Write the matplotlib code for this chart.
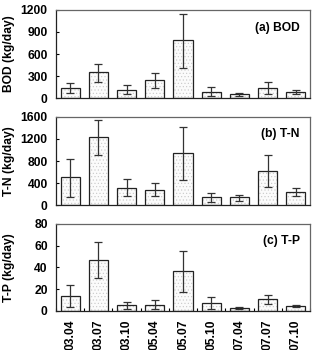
import numpy as np
import matplotlib.pyplot as plt

plt.rcParams['font.family'] = ['Liberation Sans', 'DejaVu Sans']
plt.rcParams['hatch.linewidth'] = 0.4

periods = ['03.04', '03.07', '03.10', '05.04', '05.07', '05.10', '07.04', '07.07', '07.10']

bod = [142, 360, 117, 244, 785, 90, 54, 144, 90]
bod_lo = [68, 228, 54, 135, 415, 32, 36, 63, 63]
bod_hi = [203, 470, 181, 343, 1147, 158, 72, 217, 117]

tn = [505, 1239, 313, 277, 938, 144, 144, 614, 241]
tn_lo = [156, 902, 162, 162, 457, 60, 84, 325, 174]
tn_hi = [842, 1540, 481, 397, 1408, 229, 192, 908, 313]

tp = [13.8, 47.0, 4.9, 5.8, 36.6, 6.8, 2.5, 10.5, 4.3]
tp_lo = [3.7, 30.0, 1.2, 1.2, 17.2, 1.2, 1.8, 6.2, 3.1]
tp_hi = [23.4, 63.4, 8.3, 10.2, 55.4, 12.9, 3.1, 14.8, 4.9]

panels = [
    (bod, bod_lo, bod_hi, 'BOD (kg/day)', '(a) BOD', [0, 300, 600, 900, 1200]),
    (tn, tn_lo, tn_hi, 'T-N (kg/day)', '(b) T-N', [0, 400, 800, 1200, 1600]),
    (tp, tp_lo, tp_hi, 'T-P (kg/day)', '(c) T-P', [0, 20, 40, 60, 80]),
]

fs = 8.7
fig = plt.figure(figsize=(3.15, 3.5), dpi=100)
boxes = [(0.972, 0.719), (0.667, 0.413), (0.360, 0.112)]
x = np.arange(len(periods))

for i, ((val, lo, hi, ylab, title, yt), (top, bot)) in enumerate(zip(panels, boxes)):
    ax = fig.add_axes([0.178, bot, 0.806, top - bot])
    val = np.array(val)
    err = [val - np.array(lo), np.array(hi) - val]
    # light dotted fill, then the dark outline on top
    ax.bar(x, val, width=0.68, facecolor='#fbfbfb', edgecolor='#c8c8c8',
           linewidth=0, hatch='.....', zorder=2)
    ax.bar(x, val, width=0.68, fill=False, edgecolor='#222222',
           linewidth=0.9, zorder=2.5)
    ax.errorbar(x, val, yerr=err, fmt='none', ecolor='#333333', elinewidth=0.9,
                capsize=3.2, capthick=0.9, zorder=3)
    ax.set_xlim(-0.5, len(periods) - 0.5)
    ax.set_ylim(yt[0], yt[-1])
    ax.set_yticks(yt)
    ax.set_yticklabels([str(t) for t in yt], fontsize=fs, fontweight='bold')
    ax.tick_params(axis='y', direction='in', length=2.5, width=0.8, pad=6)
    ax.set_ylabel(ylab, fontsize=fs, fontweight='bold')
    ax.yaxis.set_label_coords(-0.16, 0.5)
    ax.text(0.96, 0.80, title, transform=ax.transAxes, ha='right', va='center',
            fontsize=fs, fontweight='bold')
    for side in ['top', 'right']:
        ax.spines[side].set_color('#666666')
        ax.spines[side].set_linewidth(0.9)
    for side in ['left', 'bottom']:
        ax.spines[side].set_color('#222222')
        ax.spines[side].set_linewidth(0.9)
    if i == 2:
        ax.set_xticks(x)
        ax.set_xticklabels(periods, rotation=90, fontsize=fs, fontweight='bold')
        ax.set_xticks(np.arange(-0.5, len(periods)), minor=True)
        ax.tick_params(axis='x', which='major', length=0, pad=6)
        ax.tick_params(axis='x', which='minor', direction='in', length=2.5, width=0.8)
    else:
        ax.set_xticks([])

fig.savefig('out.png', dpi=100)
